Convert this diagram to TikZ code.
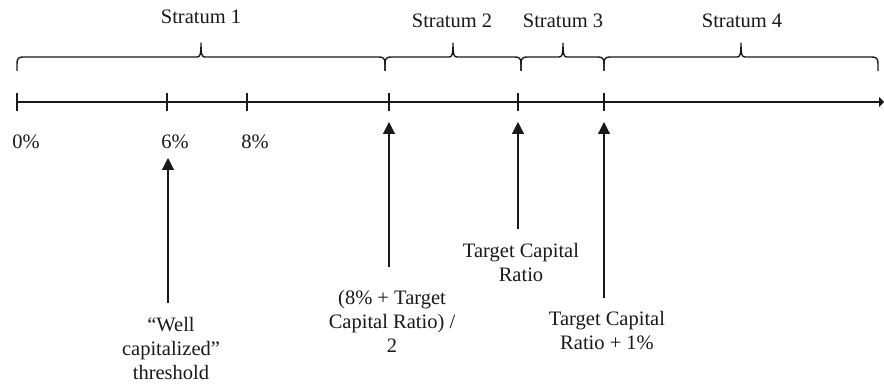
\documentclass[tikz,border=0pt]{standalone}
\usepackage{fontspec}
\setmainfont{Liberation Serif}
\usetikzlibrary{arrows.meta}
\begin{document}
\begin{tikzpicture}[x=1pt,y=-1pt,
  line/.style={line width=1.2pt,black!90},
  tickmark/.style={line width=1.2pt,black!90},
  bracestyle/.style={line width=1.4pt,black!90,line join=round},
  ptr/.style={line width=1.2pt,black!90,-{Triangle[width=12pt,length=12pt]}},
  lbl/.style={font=\fontsize{20.5}{24}\selectfont,text=black!90,inner sep=0pt,align=center},
  strat/.style={font=\fontsize{20.5}{24.5}\selectfont,text=black!90,inner sep=0pt}]
\useasboundingbox (0,0) rectangle (884,385);

% axis
\coordinate (axL) at (17,102);
\coordinate (axR) at (884,102);
\draw[line,-{Triangle[width=10pt,length=5pt]}] (axL) -- (axR);
\foreach \x/\n in {17/t0,167/t6,247/t8,389/tA,518/tB,604/tC}{
  \coordinate (\n) at (\x,102);
  \draw[tickmark] (\x,93) -- (\x,111);
}

% percent labels
\node[strat,anchor=base] (p0) at (26,149) {0\%};
\node[strat,anchor=base] (p6) at (175,149) {6\%};
\node[strat,anchor=base] (p8) at (255,149) {8\%};

% braces
\def\bEnd{71}\def\bBase{57}\def\bTip{43}
\foreach \a/\m/\b in {17/201/385,385/453/521,521/563/604,604/741/878}{
  \draw[bracestyle] (\a,\bEnd) -- (\a,64) .. controls (\a,58.5) and (\a+1.5,\bBase) .. (\a+6,\bBase)
    -- (\m-4,\bBase) .. controls (\m-1,\bBase) and (\m,55) .. (\m,\bTip)
    .. controls (\m,55) and (\m+1,\bBase) .. (\m+4,\bBase)
    -- (\b-6,\bBase) .. controls (\b-1.5,\bBase) and (\b,58.5) .. (\b,64) -- (\b,\bEnd);
}

% stratum labels
\node[strat,anchor=base] (s1) at (201,24) {Stratum 1};
\node[strat,anchor=base] (s2) at (452,28) {Stratum 2};
\node[strat,anchor=base] (s3) at (563,28) {Stratum 3};
\node[strat,anchor=base] (s4) at (742,28) {Stratum 4};

% bottom labels
\node[lbl,anchor=north] (wc) at (171,317) {“Well\\capitalized”\\threshold};
\node[lbl,anchor=north] (mid) at (392,290) {(8\% + Target\\Capital Ratio) /\\2};
\node[lbl,anchor=north] (tcr) at (521,243) {Target Capital\\Ratio};
\node[lbl,anchor=north] (tcr1) at (607,311) {Target Capital\\Ratio + 1\%};

% arrows
\coordinate (a6s) at (168,303);  \coordinate (a6e) at (168,158);
\coordinate (aAs) at (389,267);  \coordinate (aAe) at (389,122);
\coordinate (aBs) at (518,229);  \coordinate (aBe) at (518,122);
\coordinate (aCs) at (604,298);  \coordinate (aCe) at (604,122);
\draw[ptr] (a6s) -- (a6e);
\draw[ptr] (aAs) -- (aAe);
\draw[ptr] (aBs) -- (aBe);
\draw[ptr] (aCs) -- (aCe);
\end{tikzpicture}
\end{document}
